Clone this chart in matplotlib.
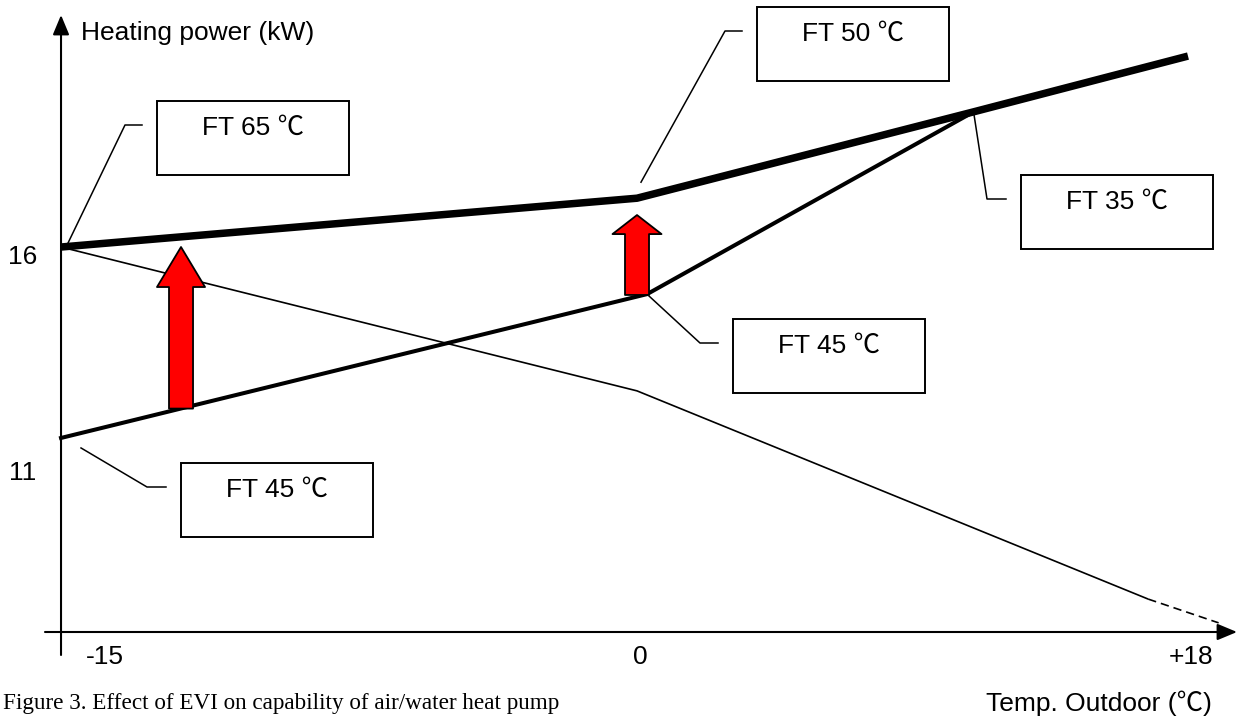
import numpy as np
import matplotlib.pyplot as plt
import matplotlib.transforms as mtransforms
from matplotlib.patches import FancyArrowPatch, Rectangle

# curves: outdoor temperature (C) -> heating power (kW), schematic
evi_temp = [-15, 0, 11.0, 18]
evi_power = [16.0, 17.13, 19.13, 20.42]

ft45_temp = [-15, 0.33, 11.0]
ft45_power = [11.58, 14.91, 19.13]

drop_temp = [-15, 0, 16.7]
drop_power = [16.0, 12.67, 7.85]
drop_ext_temp = [16.7, 19.0]
drop_ext_power = [7.85, 7.30]

# EVI gain arrows
gain_temp = [-11.875, 0]
gain_from = [12.26, 14.89]
gain_to = [16.0, 16.74]

xtick_vals = [-15, 0, 18]
xtick_labels = ["-15", "0", "+18"]
ytick_vals = [16, 11]
ytick_labels = ["16", "11"]

# labels: text, anchor (temp, power)
label_texts = ["FT 65 \u2103", "FT 50 \u2103", "FT 35 \u2103", "FT 45 \u2103", "FT 45 \u2103"]
label_anchor_temp = [-15, 0, 11.0, 0.33, -15]
label_anchor_power = [16.0, 17.13, 19.13, 14.91, 11.58]

plt.rcParams['font.family'] = ['Liberation Sans', 'Noto Sans CJK SC', 'DejaVu Sans']

W, H = 1239, 722
fig = plt.figure(figsize=(W / 100, H / 100), dpi=100)
ax = fig.add_axes([0, 0, 1, 1])
ax.axis('off')


# x axis is drawn unevenly: -15..0 is wider per degree than 0..18
def fwd(t):
    t = np.asarray(t, float)
    return np.where(t < 0, t / 15 * 576, t / 18 * 551)


def inv(p):
    p = np.asarray(p, float)
    return np.where(p < 0, p / 576 * 15, p / 551 * 18)


ax.set_xscale('function', functions=(fwd, inv))
ax.set_xlim(-16.589, 19.666)
ax.set_ylim(5.005, 21.718)

# image pixel coordinates, origin top-left
img = mtransforms.Affine2D().scale(1 / W, -1 / H).translate(0, 1) + fig.transFigure

# curves
ax.plot(drop_temp, drop_power, color='black', lw=1.2, solid_capstyle='butt')
ax.plot(drop_ext_temp, drop_ext_power, color='black', lw=1.2, ls=(0, (5, 3)))
ax.plot(ft45_temp, ft45_power, color='black', lw=2.9, solid_joinstyle='miter')
ax.plot(evi_temp, evi_power, color='black', lw=5.4, solid_capstyle='butt')

# red arrows
arrow_shapes = [(28.8, 34.6, 17.3), (13.7, 35.3, 17.3)]
for t, y0, y1, (hl, hw, tw) in zip(gain_temp, gain_from, gain_to, arrow_shapes):
    ar = FancyArrowPatch((t, y0), (t, y1),
                         arrowstyle=f"simple,head_length={hl},head_width={hw},tail_width={tw}",
                         mutation_scale=1, fc='#ff0000', ec='black', lw=1.3,
                         shrinkA=0, shrinkB=0, zorder=5)
    ax.add_patch(ar)

# axes with arrow heads
axis_style = "-|>,head_length=12,head_width=5"
yaxis = FancyArrowPatch((-15, 655), (-15, 15),
                        transform=mtransforms.blended_transform_factory(ax.transData, img),
                        arrowstyle=axis_style, mutation_scale=1, color='black', lw=1.5,
                        shrinkA=0, shrinkB=0)
ax.add_patch(yaxis)
xaxis = FancyArrowPatch((45, 632), (1237, 632), transform=img,
                        arrowstyle=axis_style, mutation_scale=1, color='black', lw=1.5,
                        shrinkA=0, shrinkB=0)
ax.add_patch(xaxis)

# tick labels
tick_fs = 19
x_offsets = [44, 3, 3]
xt = mtransforms.blended_transform_factory(ax.transData, img)
for v, s, dx in zip(xtick_vals, xtick_labels, x_offsets):
    tr = mtransforms.offset_copy(xt, fig=fig, x=dx, y=0, units='dots')
    ax.text(v, 657, s, transform=tr, ha='center', va='center', fontsize=tick_fs)
yt = mtransforms.offset_copy(mtransforms.blended_transform_factory(img, ax.transData),
                             fig=fig, x=0, y=-10, units='dots')
for v, s in zip(ytick_vals, ytick_labels):
    ax.text(23, v, s, transform=yt, ha='center', va='center', fontsize=tick_fs)

ax.text(81, 33, "Heating power (kW)", transform=img, ha='left', va='center', fontsize=19)
ax.text(1212, 703, "Temp. Outdoor (\u2103)", transform=img, ha='right', va='center', fontsize=19)
ax.text(3, 703, "Figure 3. Effect of EVI on capability of air/water heat pump", transform=img,
        ha='left', va='center', fontsize=16.7, family=['Liberation Serif'])

# callout boxes: (left, top) of box, elbow of leader, anchor offset in pixels
box_pos = [(157, 101), (757, 7), (1021, 175), (733, 319), (181, 463)]
elbows = [(125, 125), (725, 31), (987, 199), (700, 343), (147, 487)]
anchor_off = [(7, -4), (4, -16), (0, 1), (2, 2), (20, 10)]
bw, bh = 192, 74
to_img = img.inverted()
for s, t, v, (bx, by), (ex, ey), (ox, oy) in zip(label_texts, label_anchor_temp, label_anchor_power,
                                                box_pos, elbows, anchor_off):
    px, py = to_img.transform(ax.transData.transform((t, v)))
    ax.plot([px + ox, ex, bx - 15], [py + oy, ey, ey], transform=img, color='black', lw=1.1)
    ax.add_patch(Rectangle((bx, by), bw, bh, transform=img, fill=False, ec='black', lw=1.4))
    ax.text(bx + bw / 2, by + 27, s, transform=img, ha='center', va='center', fontsize=19)

fig.savefig("out.png", dpi=100)
